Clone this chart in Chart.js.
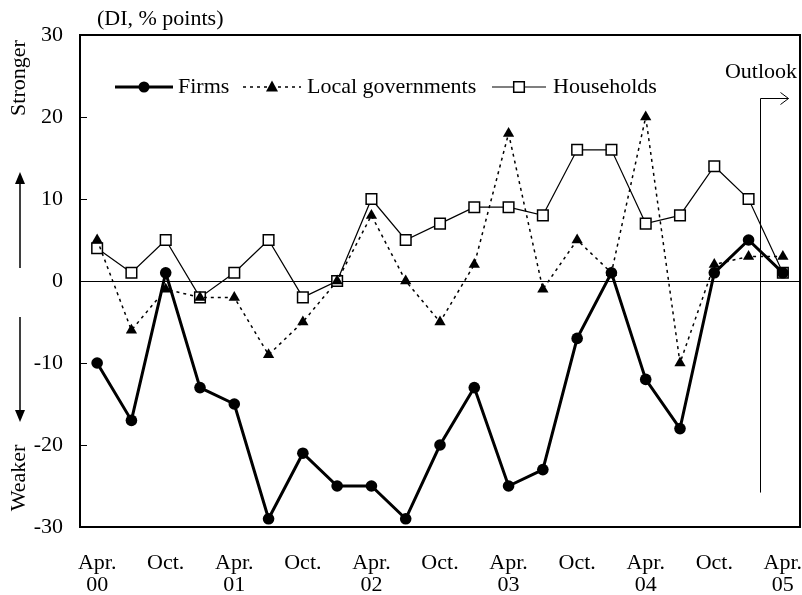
<!DOCTYPE html>
<html>
<head>
<meta charset="utf-8">
<script src="https://cdn.jsdelivr.net/npm/chart.js@4/dist/chart.umd.min.js"></script>
<style>
  html, body { margin: 0; padding: 0; background: #fff; }
  #wrap { width: 802px; height: 595px; }
</style>
</head>
<body>
<div id="wrap"><canvas id="c" width="802" height="595"></canvas></div>
<script>
// Quarterly categories, Apr. 2000 to Apr. 2005
const categories = ["Apr-00","Jul-00","Oct-00","Jan-01","Apr-01","Jul-01","Oct-01","Jan-02","Apr-02","Jul-02","Oct-02","Jan-03","Apr-03","Jul-03","Oct-03","Jan-04","Apr-04","Jul-04","Oct-04","Jan-05","Apr-05"];
const tickLabels = [["Apr.","00"],"",["Oct."],"",["Apr.","01"],"",["Oct."],"",["Apr.","02"],"",["Oct."],"",["Apr.","03"],"",["Oct."],"",["Apr.","04"],"",["Oct."],"",["Apr.","05"]];
const firms = [-10,-17,1,-13,-15,-29,-21,-25,-25,-29,-20,-13,-25,-23,-7,1,-12,-18,1,5,1];
const localGovernments = [5,-6,-1,-2,-2,-9,-5,0,8,0,-5,2,18,-1,5,1,20,-10,2,3,3];
const households = [4,1,5,-2,1,5,-2,0,10,5,7,9,9,8,16,16,7,8,14,10,1];
const yTicks = [-30,-20,-10,0,10,20,30];
const seriesNames = ["Firms","Local governments","Households"];
const axisTitle = "(DI, % points)";
const strongerLabel = "Stronger";
const weakerLabel = "Weaker";
const outlookLabel = "Outlook";
const outlookPosition = 19.33; // category index where outlook begins

const FONT = "Liberation Serif";
const FS = 22;

function drawMarker(ctx, type, x, y) {
  ctx.save();
  ctx.setLineDash([]);
  ctx.beginPath();
  if (type === 'circle') {
    ctx.fillStyle = '#000';
    ctx.arc(x, y, 5.5, 0, Math.PI * 2);
    ctx.fill();
  } else if (type === 'triangle') {
    ctx.fillStyle = '#000';
    ctx.moveTo(x, y - 6.5);
    ctx.lineTo(x + 6, y + 4.5);
    ctx.lineTo(x - 6, y + 4.5);
    ctx.closePath();
    ctx.fill();
  } else {
    ctx.fillStyle = '#fff';
    ctx.strokeStyle = '#000';
    ctx.lineWidth = 1.5;
    ctx.rect(x - 5.3, y - 5.3, 10.6, 10.6);
    ctx.fill();
    ctx.stroke();
  }
  ctx.restore();
}

const decorPlugin = {
  id: 'decor',
  beforeDatasetsDraw(chart) {
    const ctx = chart.ctx;
    const a = chart.chartArea;
    const y = chart.scales.y;
    ctx.save();
    ctx.strokeStyle = '#000';
    ctx.lineWidth = 1;
    const y0 = Math.round(y.getPixelForValue(0)) + 0.5;
    ctx.beginPath();
    ctx.moveTo(a.left, y0);
    ctx.lineTo(a.right, y0);
    ctx.stroke();
    yTicks.forEach(v => {
      const py = Math.round(y.getPixelForValue(v)) + 0.5;
      ctx.beginPath();
      ctx.moveTo(a.left, py);
      ctx.lineTo(a.left + 7, py);
      ctx.stroke();
    });
    ctx.restore();
  },
  afterDraw(chart) {
    const ctx = chart.ctx;
    const a = chart.chartArea;
    const xs = chart.scales.x;
    const ys = chart.scales.y;
    ctx.save();
    ctx.strokeStyle = '#000';
    ctx.lineWidth = 2;
    ctx.strokeRect(a.left, a.top, a.right - a.left, a.bottom - a.top);

    ctx.fillStyle = '#000';
    ctx.font = FS + 'px "' + FONT + '"';
    ctx.textBaseline = 'middle';
    ctx.textAlign = 'left';
    ctx.fillText(axisTitle, 97, 19);

    ctx.save();
    ctx.translate(19, 78);
    ctx.rotate(-Math.PI / 2);
    ctx.textAlign = 'center';
    ctx.fillText(strongerLabel, 0, 0);
    ctx.restore();
    ctx.save();
    ctx.translate(19, 478);
    ctx.rotate(-Math.PI / 2);
    ctx.textAlign = 'center';
    ctx.fillText(weakerLabel, 0, 0);
    ctx.restore();

    ctx.strokeStyle = '#000';
    ctx.lineWidth = 1.5;
    ctx.beginPath();
    ctx.moveTo(20, 268); ctx.lineTo(20, 180);
    ctx.moveTo(20, 317); ctx.lineTo(20, 414);
    ctx.stroke();
    ctx.beginPath();
    ctx.moveTo(20, 172); ctx.lineTo(25, 184); ctx.lineTo(15, 184); ctx.closePath();
    ctx.fill();
    ctx.beginPath();
    ctx.moveTo(20, 422); ctx.lineTo(25, 410); ctx.lineTo(15, 410); ctx.closePath();
    ctx.fill();

    const ox = Math.round(xs.getPixelForValue(outlookPosition)) + 0.5;
    const oTop = Math.round(ys.getPixelForValue(22.3)) + 0.5;
    const oBot = ys.getPixelForValue(-25.8);
    ctx.lineWidth = 1;
    ctx.beginPath();
    ctx.moveTo(ox, oBot);
    ctx.lineTo(ox, oTop);
    ctx.lineTo(ox + 28, oTop);
    ctx.moveTo(ox + 20, oTop - 6);
    ctx.lineTo(ox + 28, oTop);
    ctx.lineTo(ox + 20, oTop + 6);
    ctx.stroke();
    ctx.textAlign = 'right';
    ctx.fillText(outlookLabel, a.right - 3, 72);

    ctx.textAlign = 'left';
    const ly = 87;
    ctx.lineWidth = 3;
    ctx.setLineDash([]);
    ctx.beginPath(); ctx.moveTo(115, ly); ctx.lineTo(173, ly); ctx.stroke();
    drawMarker(ctx, 'circle', 144, ly);
    ctx.fillStyle = '#000';
    ctx.fillText(seriesNames[0], 178, ly);
    ctx.lineWidth = 1.5;
    ctx.setLineDash([3, 4]);
    ctx.beginPath(); ctx.moveTo(243, ly); ctx.lineTo(301, ly); ctx.stroke();
    ctx.setLineDash([]);
    drawMarker(ctx, 'triangle', 272, ly);
    ctx.fillStyle = '#000';
    ctx.fillText(seriesNames[1], 307, ly);
    ctx.lineWidth = 1.2;
    ctx.beginPath(); ctx.moveTo(492, ly); ctx.lineTo(546, ly); ctx.stroke();
    drawMarker(ctx, 'rect', 519, ly);
    ctx.fillStyle = '#000';
    ctx.fillText(seriesNames[2], 553, ly);
    ctx.restore();
  }
};

new Chart(document.getElementById('c'), {
  type: 'line',
  data: {
    labels: categories,
    datasets: [
      {
        label: seriesNames[0],
        data: firms,
        borderColor: '#000',
        backgroundColor: '#000',
        borderWidth: 3,
        pointStyle: 'circle',
        pointRadius: 5.8,
        pointBorderWidth: 0,
        pointBackgroundColor: '#000',
        tension: 0
      },
      {
        label: seriesNames[1],
        data: localGovernments,
        borderColor: '#000',
        backgroundColor: '#000',
        borderWidth: 1.5,
        borderDash: [3, 4],
        pointStyle: 'triangle',
        pointRadius: 6.5,
        pointBorderWidth: 0,
        pointBackgroundColor: '#000',
        tension: 0
      },
      {
        label: seriesNames[2],
        data: households,
        borderColor: '#000',
        backgroundColor: '#fff',
        borderWidth: 1.2,
        pointStyle: 'rect',
        pointRadius: 7.5,
        pointBorderWidth: 1.5,
        pointBackgroundColor: '#fff',
        pointBorderColor: '#000',
        tension: 0
      }
    ]
  },
  options: {
    responsive: false,
    animation: false,
    devicePixelRatio: 1,
    layout: { autoPadding: false, padding: { top: 35, right: 2, left: 0, bottom: 0 } },
    plugins: {
      legend: { display: false },
      tooltip: { enabled: false },
      title: { display: false }
    },
    scales: {
      x: {
        type: 'category',
        offset: true,
        grid: { display: false, drawTicks: false },
        border: { display: false },
        ticks: {
          autoSkip: false,
          maxRotation: 0,
          minRotation: 0,
          padding: 25,
          color: '#000',
          font: { family: FONT, size: FS, lineHeight: 1.0 },
          callback: (v, i) => tickLabels[i]
        },
        afterFit: s => { s.height = 68; s.paddingLeft = 0; s.paddingRight = 0; }
      },
      y: {
        min: -30,
        max: 30,
        grid: { display: false, drawTicks: false },
        border: { display: false },
        ticks: {
          stepSize: 10,
          padding: 17,
          color: '#000',
          font: { family: FONT, size: FS }
        },
        afterBuildTicks: s => { s.ticks = yTicks.map(v => ({ value: v })); },
        afterFit: s => { s.width = 80; s.paddingTop = 0; s.paddingBottom = 0; }
      }
    }
  },
  plugins: [decorPlugin]
});
</script>
</body>
</html>
